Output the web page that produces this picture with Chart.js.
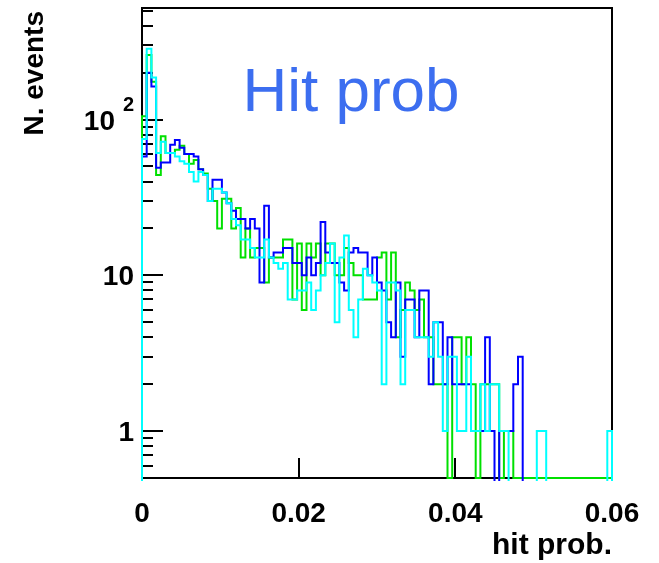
<!DOCTYPE html>
<html>
<head>
<meta charset="utf-8">
<script src="https://cdn.jsdelivr.net/npm/chart.js@4.4.1/dist/chart.umd.min.js"></script>
<style>
html, body { margin: 0; padding: 0; background: #fff; }
</style>
</head>
<body>
<canvas id="hitChart" width="659" height="563"></canvas>
<script>
// histogram binning: 100 bins from 0 to 0.06
const xMin = 0, xMax = 0.06, nBins = 100;
const yMin = 0.5, yMax = 520;

// counts per bin (0 = empty bin)
const blueCounts = [
  58, 200, 163, 49, 53, 53, 69, 74, 66, 60,
  60, 58, 48, 44, 30, 41, 41, 34, 29, 26,
  23, 23, 20, 23, 20, 9, 28, 13, 14, 14,
  15, 15, 12, 12, 10, 13, 10, 12, 22, 14,
  12, 12, 9, 8, 14, 15, 14, 14, 10, 13,
  9, 8, 5, 4, 9, 3, 7, 7, 4, 8,
  8, 2, 5, 5, 2, 4, 2, 2, 2, 2,
  1, 1, 1, 4, 1, 0, 1, 1, 1, 2,
  3, 0, 0, 0, 0, 0, 0, 0, 0, 0,
  0, 0, 0, 0, 0, 0, 0, 0, 0, 0
];
const greenCounts = [
  105, 260, 175, 44, 78, 61, 61, 64, 68, 60,
  52, 55, 48, 45, 36, 30, 20, 31, 31, 20,
  27, 13, 20, 13, 15, 15, 9, 13, 13, 13,
  17, 17, 7, 16, 6, 16, 13, 16, 10, 16,
  16, 10, 10, 15, 12, 10, 10, 7, 7, 7,
  13, 14, 7, 14, 4, 6, 9, 8, 6, 7,
  4, 4, 2, 2, 2, 0, 4, 4, 2, 4,
  2, 0, 2, 2, 2, 2, 0, 1, 1, 0,
  0, 0, 0, 0, 0, 0, 0, 0, 0, 0,
  0, 0, 0, 0, 0, 0, 0, 0, 0, 0
];
const cyanCounts = [
  75, 285, 186, 61, 72, 61, 61, 58, 54, 52,
  46, 40, 46, 44, 30, 36, 36, 34, 29, 23,
  21, 17, 17, 15, 13, 13, 17, 13, 12, 11,
  12, 7, 7, 8, 8, 9, 6, 8, 10, 12,
  16, 5, 13, 18, 6, 4, 7, 11, 10, 9,
  8, 2, 9, 9, 8, 2, 6, 6, 4, 4,
  4, 3, 5, 3, 1, 3, 3, 1, 1, 3,
  1, 1, 2, 1, 2, 2, 1, 1, 0, 0,
  0, 0, 0, 0, 1, 1, 0, 0, 0, 0,
  0, 0, 0, 0, 0, 0, 0, 0, 0, 1
];

const xTickValues = [0, 0.02, 0.04, 0.06];
const xTickLabels = ['0', '0.02', '0.04', '0.06'];
const yMajorTicks = [1, 10, 100];
const yMinorTicks = [0.6, 0.7, 0.8, 0.9, 2, 3, 4, 5, 6, 7, 8, 9,
                     20, 30, 40, 50, 60, 70, 80, 90, 200, 300, 400, 500];

// histogram outline as points: each bin value starts at its low edge.
// empty bins sit at `floor` (on the frame, or just under it so only the drop shows)
function toSteps(counts, floor) {
    const w = (xMax - xMin) / nBins;
    const pts = [{ x: xMin, y: floor }];
    counts.forEach((c, i) => pts.push({ x: xMin + i * w, y: c > 0 ? c : floor }));
    pts.push({ x: xMax, y: floor });
    return pts;
}

const FONT = '"Liberation Sans", Arial, Helvetica, sans-serif';

const rootAxes = {
    id: 'rootAxes',
    beforeDatasetsDraw(chart) {
        const { ctx, chartArea: a, scales: { x, y } } = chart;
        ctx.save();
        ctx.strokeStyle = '#000';
        ctx.lineWidth = 2;
        ctx.strokeRect(a.left, a.top, a.right - a.left, a.bottom - a.top);
        ctx.beginPath();
        yMinorTicks.forEach(v => {
            const py = Math.round(y.getPixelForValue(v));
            ctx.moveTo(a.left, py); ctx.lineTo(a.left + 11, py);
        });
        yMajorTicks.forEach(v => {
            const py = Math.round(y.getPixelForValue(v));
            ctx.moveTo(a.left, py); ctx.lineTo(a.left + 21, py);
        });
        xTickValues.forEach(v => {
            const px = Math.round(x.getPixelForValue(v));
            ctx.moveTo(px, a.bottom); ctx.lineTo(px, a.bottom - 20);
        });
        ctx.stroke();
        ctx.restore();
    },
    afterDraw(chart) {
        const { ctx, chartArea: a, scales: { x, y } } = chart;
        ctx.save();
        ctx.fillStyle = '#000';

        // x tick labels
        ctx.font = 'bold 28px ' + FONT;
        ctx.textAlign = 'center';
        ctx.textBaseline = 'alphabetic';
        xTickValues.forEach((v, i) => {
            ctx.fillText(xTickLabels[i], x.getPixelForValue(v), 522);
        });

        // y tick labels
        ctx.textAlign = 'right';
        const lx = 134;
        ctx.fillText('1', lx, y.getPixelForValue(1) + 10);
        ctx.fillText('10', lx, y.getPixelForValue(10) + 10);
        const py2 = y.getPixelForValue(100);
        ctx.fillText('10', 115, py2 + 10);
        ctx.font = 'bold 20px ' + FONT;
        ctx.fillText('2', lx, py2 - 9);

        // axis titles
        ctx.font = 'bold 30px ' + FONT;
        ctx.textAlign = 'right';
        ctx.fillText('hit prob.', a.right, 554);
        ctx.font = 'bold 28px ' + FONT;
        ctx.save();
        ctx.translate(43, a.top + 3);
        ctx.rotate(-Math.PI / 2);
        ctx.textAlign = 'right';
        ctx.fillText('N. events', 0, 0);
        ctx.restore();

        // title
        ctx.font = '62px ' + FONT;
        ctx.textAlign = 'center';
        ctx.fillStyle = 'rgb(60,110,240)';
        ctx.fillText('Hit prob', 351, 111);
        ctx.restore();
    }
};

const seriesStyle = { borderWidth: 2, pointRadius: 0, fill: false, stepped: true, tension: 0, clip: 3 };

new Chart(document.getElementById('hitChart').getContext('2d'), {
    type: 'line',
    data: {
        datasets: [
            { ...seriesStyle, label: 'cyan', data: toSteps(cyanCounts, 0.3), borderColor: '#00ffff', order: 0 },
            { ...seriesStyle, label: 'blue', data: toSteps(blueCounts, 0.3), borderColor: '#0000ff', order: 1 },
            { ...seriesStyle, label: 'green', data: toSteps(greenCounts, yMin), borderColor: '#00e000', order: 2 }
        ]
    },
    options: {
        responsive: false,
        animation: false,
        layout: { padding: { left: 142, right: 47, top: 8, bottom: 85 } },
        plugins: { legend: { display: false }, tooltip: { enabled: false } },
        scales: {
            x: { type: 'linear', min: xMin, max: xMax, display: false },
            y: { type: 'logarithmic', min: yMin, max: yMax, display: false }
        }
    },
    plugins: [rootAxes]
});
</script>
</body>
</html>
